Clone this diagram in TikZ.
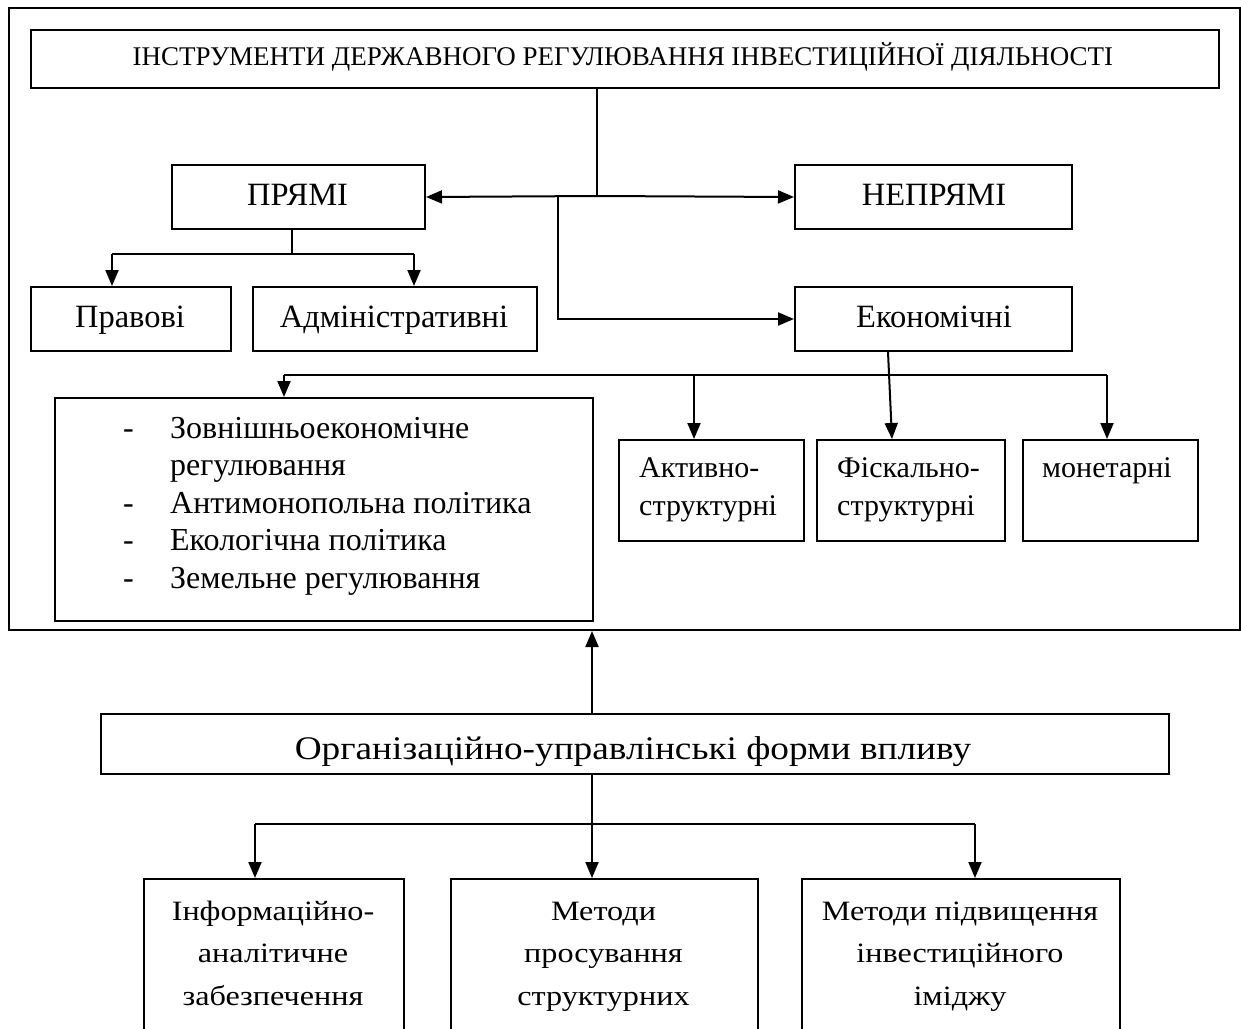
\documentclass[tikz,border=0pt]{standalone}
\usepackage{fontspec}
\setmainfont{Liberation Serif}
\usetikzlibrary{arrows.meta}

\tikzset{
  box/.style={draw, line width=2pt, rectangle, inner sep=0pt, anchor=north west},
  txt/.style={inner sep=0pt, anchor=base},
  txtl/.style={inner sep=0pt, anchor=base west, align=left},
  link/.style={line width=2pt},
  arr/.style={line width=2pt, -{Triangle[length=16pt,width=13pt]}},
}
% wide lines for the lower block
\newcommand{\widelines}[1]{\scalebox{1.15}[1]{\begin{tabular}[b]{@{}c@{}}#1\end{tabular}}}

\begin{document}
\begin{tikzpicture}[x=1pt, y=-1pt]
  \useasboundingbox (0,0) rectangle (1241,1028);
  \clip (0,0) rectangle (1241,1028);

  % outer frame around the instruments block
  \node[box, minimum width=1231pt, minimum height=622pt] (frame) at (8,7) {};

  % heading
  \node[box, minimum width=1188pt, minimum height=58pt] (title) at (30,29) {};
  \node[txt, font=\fontsize{27}{30}\selectfont] (title-t) at (623,65)
    {ІНСТРУМЕНТИ ДЕРЖАВНОГО РЕГУЛЮВАННЯ ІНВЕСТИЦІЙНОЇ ДІЯЛЬНОСТІ};

  % direct / indirect
  \node[box, minimum width=253pt, minimum height=64pt] (pryami) at (171,164) {};
  \node[txt, font=\fontsize{32.5}{36}\selectfont] (pryami-t) at (297.5,205) {ПРЯМІ};
  \node[box, minimum width=277pt, minimum height=64pt] (nepryami) at (794,164) {};
  \node[txt, font=\fontsize{32.5}{36}\selectfont] (nepryami-t) at (934,205) {НЕПРЯМІ};

  % second level
  \node[box, minimum width=200pt, minimum height=64pt] (pravovi) at (30,286) {};
  \node[txt, font=\fontsize{32.5}{36}\selectfont] (pravovi-t) at (130,327) {Правові};
  \node[box, minimum width=284pt, minimum height=64pt] (admin) at (252,286) {};
  \node[txt, font=\fontsize{32.5}{36}\selectfont] (admin-t) at (394,327) {Адміністративні};
  \node[box, minimum width=277pt, minimum height=64pt] (ekon) at (794,286) {};
  \node[txt, font=\fontsize{32.5}{36}\selectfont] (ekon-t) at (934,327) {Економічні};

  % list of regulation areas
  \node[box, minimum width=538pt, minimum height=223pt] (list) at (54,397) {};
  \node[txtl, font=\fontsize{32}{37.5}\selectfont] (list-t) at (123,588)
    {\makebox[47pt][l]{-}Зовнішньоекономічне\\
     \hspace*{47pt}регулювання\\
     \makebox[47pt][l]{-}Антимонопольна політика\\
     \makebox[47pt][l]{-}Екологічна політика\\
     \makebox[47pt][l]{-}Земельне регулювання};

  % economic instruments
  \node[box, minimum width=185pt, minimum height=101pt] (activ) at (618,439) {};
  \node[txtl, font=\fontsize{30}{38}\selectfont] (activ-t) at (639,515)
    {Активно-\\структурні};
  \node[box, minimum width=188pt, minimum height=101pt] (fisk) at (816,439) {};
  \node[txtl, font=\fontsize{30}{38}\selectfont] (fisk-t) at (837,515)
    {Фіскально-\\структурні};
  \node[box, minimum width=175pt, minimum height=101pt] (monet) at (1022,439) {};
  \node[txtl, font=\fontsize{30}{38}\selectfont] (monet-t) at (1042,477) {монетарні};

  % organisational forms
  \node[box, minimum width=1068pt, minimum height=60pt] (org) at (100,713) {};
  \node[txt, font=\fontsize{33}{36}\selectfont] (org-t) at (633,759)
    {\scalebox{1.13}[1]{Організаційно-управлінські форми впливу}};

  \node[box, minimum width=260pt, minimum height=170pt] (m1) at (143,878) {};
  \node[txt, font=\fontsize{28}{42.5}\selectfont] (m1-t) at (273,1005)
    {\widelines{Інформаційно-\\аналітичне\\забезпечення}};
  \node[box, minimum width=307pt, minimum height=170pt] (m2) at (450,878) {};
  \node[txt, font=\fontsize{28}{42.5}\selectfont] (m2-t) at (603.5,1005)
    {\widelines{Методи\\просування\\структурних}};
  \node[box, minimum width=318pt, minimum height=170pt] (m3) at (801,878) {};
  \node[txt, font=\fontsize{28}{42.5}\selectfont] (m3-t) at (960,1005)
    {\widelines{Методи підвищення\\інвестиційного\\іміджу}};

  % junction points
  \coordinate (j1) at (597,196);
  \coordinate (j2) at (558,196);
  \coordinate (j3) at (292,254);
  \coordinate (pl) at (112,254);
  \coordinate (pr) at (414,254);
  \coordinate (e1) at (888,350);
  \coordinate (e2) at (892,439);
  \coordinate (hl) at (284,375);
  \coordinate (ha) at (694,375);
  \coordinate (hr) at (1107,375);
  \coordinate (ov) at (592,700);
  \coordinate (bl) at (255,824);
  \coordinate (br) at (975,824);

  % connectors of the upper block
  \draw[link] (title.south -| j1) -- (j1);
  \draw[arr] (j1) -- (pryami.east);
  \draw[arr] (j1) -- (nepryami.west);
  \draw[arr] (j2) |- (ekon.west);
  \draw[link] (pryami.south -| j3) -- (j3);
  \draw[link] (pl) -- (pr);
  \draw[arr] (pl) -- (pravovi.north -| pl);
  \draw[arr] (pr) -- (admin.north -| pr);
  \draw[arr] (ekon.south -| e1) -- (fisk.north -| e2);
  \draw[link] (hl) -- (hr);
  \draw[arr] (hl) -- (list.north -| hl);
  \draw[arr] (ha) -- (activ.north -| ha);
  \draw[arr] (hr) -- (monet.north -| hr);

  % connectors of the lower block
  \draw[arr] (org.north -| ov) -- (frame.south -| ov);
  \draw[arr] (org.south -| ov) -- (m2.north -| ov);
  \draw[link] (bl) -- (br);
  \draw[arr] (bl) -- (m1.north -| bl);
  \draw[arr] (br) -- (m3.north -| br);
\end{tikzpicture}
\end{document}
